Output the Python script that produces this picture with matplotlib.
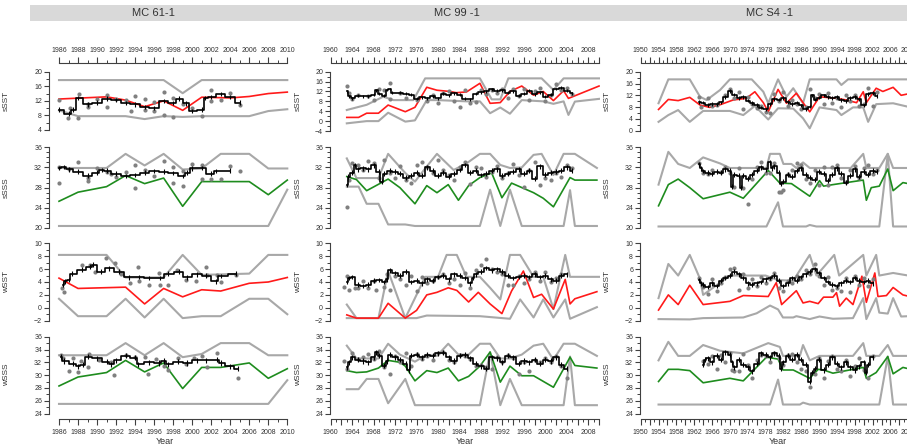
import matplotlib
matplotlib.use("Agg")
import matplotlib.pyplot as plt
from matplotlib.patches import Rectangle
from matplotlib.ticker import FixedLocator, FuncFormatter

plt.rcParams['font.family'] = ['Liberation Sans', 'DejaVu Sans']

# ---------------- data (year, value) ----------------
titles = ["MC 61-1", "MC 99 -1", "MC S4 -1"]
row_names = ["sSST", "sSSS", "wSST", "wSSS"]

# MC 61-1
c1_ssst_hi = [(1986, 17.7), (1997, 17.7), (1999, 14.1), (2001, 17.7), (2010, 17.7)]
c1_ssst_mean = [(1986, 12.5), (1991, 13.1), (1993, 12.2), (1995, 10.4), (1997, 12.0), (1999, 9.4), (2001, 13.0),
                (2004, 12.8), (2006, 13.2), (2008, 14.0), (2010, 14.4)]
c1_ssst_lo = [(1986, 9.4), (1988, 7.8), (1993, 7.8), (1995, 7.0), (1997, 7.8), (1999, 7.6), (2001, 7.8),
              (2006, 7.8), (2008, 9.2), (2010, 9.7)]
c1_ssst_run = [(1986, 9.6), (1987, 8.5), (1987.5, 9.6), (1988, 12.8), (1989, 11.0), (1990, 11.5), (1991, 12.6),
               (1992, 12.2), (1993, 11.4), (1994, 11.0), (1995, 10.3), (1996, 10.0), (1997, 12.0), (1998, 11.4),
               (1998.6, 12.6), (1999.4, 11.3), (2000, 9.2), (2001, 9.6), (2001.4, 12.8), (2002, 13.0),
               (2003, 13.8), (2004, 13.0), (2005, 11.5)]
c1_ssst_obs = [(1986, 12.3), (1986.9, 7.3), (1987.2, 10.0), (1988, 7.4), (1988.1, 13.9), (1989, 10.4), (1989, 11.2),
               (1990, 12.6), (1991, 10.2), (1991, 13.6), (1992, 12.6), (1993, 12.2), (1993.6, 9.2), (1994, 13.2),
               (1995, 12.5), (1995, 9.6), (1996, 9.1), (1996, 11.8), (1997, 14.5), (1997, 8.0), (1998, 12.8),
               (1998, 7.6), (1999, 11.0), (2000, 10.0), (2001, 7.9), (2002, 15.0), (2002, 12.0), (2003, 12.2),
               (2004, 14.2), (2005, 10.8)]

c1_ssss_hi = [(1986, 31.9), (1991, 31.9), (1993, 34.7), (1995, 32.4), (1997, 34.7), (1999, 31.6), (2001, 31.8),
              (2003, 34.7), (2006, 34.7), (2008, 31.8), (2010, 31.8)]
c1_ssss_mean = [(1986, 25.3), (1988, 27.1), (1991, 28.2), (1993, 30.4), (1995, 28.8), (1997, 29.9), (1999, 24.3),
                (2001, 29.2), (2006, 29.2), (2008, 26.6), (2010, 29.5)]
c1_ssss_lo = [(1986, 20.4), (2008, 20.4), (2010, 27.6)]
c1_ssss_run = [(1986, 31.9), (1986.5, 32.1), (1987, 31.6), (1988, 31.2), (1989, 30.4), (1990, 31.0), (1990.5, 31.5),
               (1991, 31.4), (1992, 30.8), (1993, 30.3), (1994, 30.5), (1995, 31.0), (1996, 31.3), (1997, 31.2),
               (1998, 30.9), (1999, 30.3), (1999.5, 31.0), (2000, 31.8), (2001, 31.9), (2002, 30.8),
               (2002.5, 31.3), (2004, 31.4)]
c1_ssss_obs = [(1986, 32.1), (1986, 29.0), (1987, 31.6), (1988, 33.0), (1989, 29.3), (1989, 30.0), (1990, 31.8),
               (1991, 31.2), (1991.5, 30.8), (1992, 30.1), (1993, 31.2), (1994, 28.0), (1994, 32.4), (1995, 31.5),
               (1996, 30.3), (1997, 33.2), (1998, 29.0), (1998, 32.0), (1999, 28.3), (1999, 31.3), (2000, 32.7),
               (2001, 32.4), (2001, 29.7), (2002, 29.7), (2003, 29.7), (2004, 32.3), (2005, 31.3)]

c1_wsst_hi = [(1986, 8.2), (1991, 8.2), (1993, 4.7), (1997, 4.7), (1999, 8.2), (2001, 5.1), (2006, 5.3),
              (2008, 8.2), (2010, 8.2)]
c1_wsst_mean = [(1986, 4.6), (1988, 3.0), (1993, 3.2), (1995, 0.6), (1997, 3.0), (1999, 1.7), (2001, 2.8),
                (2003, 2.6), (2006, 3.8), (2008, 4.0), (2010, 4.7)]
c1_wsst_lo = [(1986, 1.4), (1988, -1.3), (1991, -1.3), (1993, 1.4), (1995, -1.5), (1997, 1.4), (1999, -1.6),
              (2001, -1.3), (2003, -1.3), (2006, 1.4), (2008, 1.4), (2010, -1.0)]
c1_wsst_run = [(1986.4, 3.6), (1986.6, 4.1), (1987, 4.3), (1987.4, 5.3), (1988.4, 5.9), (1989.3, 6.4),
               (1989.6, 6.7), (1990.4, 5.6), (1991.3, 6.1), (1992.3, 5.6), (1993.4, 4.7), (1994.4, 4.8),
               (1995.5, 4.6), (1996.6, 4.6), (1997.5, 5.3), (1998.6, 5.6), (1999.5, 4.7), (2000.5, 5.2),
               (2001.5, 5.0), (2002.5, 4.1), (2003, 4.9), (2004.6, 5.3)]
c1_wsst_obs = [(1986.3, 3.1), (1986.5, 2.5), (1988.4, 6.7), (1989.3, 6.6), (1989.8, 5.5), (1990.9, 7.7),
               (1991.9, 6.9), (1992.5, 5.3), (1993.5, 3.8), (1994.3, 6.4), (1994.4, 4.1), (1995.5, 3.6),
               (1996.5, 5.4), (1996.6, 3.6), (1997.5, 3.6), (1998.4, 5.9), (1999.4, 4.3), (2000.4, 4.2),
               (2001.5, 6.4), (2001.6, 5.1), (2002.6, 5.1), (2003, 4.0), (2004.6, 5.1)]

c1_wsss_hi = [(1986, 33.1), (1991, 33.1), (1993, 35.0), (1995, 33.1), (1997, 35.0), (1999, 32.8), (2001, 33.3),
              (2003, 35.0), (2006, 35.0), (2008, 33.1), (2010, 33.1)]
c1_wsss_mean = [(1986, 28.3), (1988, 29.7), (1991, 30.4), (1993, 32.3), (1995, 30.5), (1997, 31.9), (1999, 27.9),
                (2001, 31.2), (2003, 31.2), (2006, 31.9), (2008, 29.5), (2010, 31.0)]
c1_wsss_lo = [(1986, 25.5), (2008, 25.5), (2010, 29.2)]
c1_wsss_run = [(1986.2, 32.9), (1986.5, 32.2), (1987.5, 31.8), (1988, 31.4), (1988.5, 31.6), (1989, 32.9),
               (1990, 32.6), (1991, 32.1), (1991.5, 31.7), (1992, 32.3), (1993, 33.0), (1994, 32.7),
               (1994.3, 31.7), (1995.5, 32.0), (1996.5, 31.9), (1997, 32.2), (1997.5, 31.7), (1998.5, 32.1),
               (1999.5, 31.9), (2000.5, 32.3), (2001.5, 32.3), (2002.6, 32.4), (2003, 31.9), (2004, 31.4),
               (2004.8, 31.0)]
c1_wsss_obs = [(1986.2, 33.2), (1986.4, 32.6), (1987, 30.6), (1987.5, 32.7), (1988, 30.5), (1988.3, 32.2),
               (1989.2, 33.3), (1989, 31.3), (1990.2, 32.3), (1991.5, 32.1), (1991.8, 30.0), (1993, 33.2),
               (1994, 32.9), (1995, 32.8), (1995.4, 30.2), (1996.2, 32.5), (1997, 31.5), (1997.5, 30.8),
               (1998.5, 32.6), (1999.3, 31.8), (2000.2, 32.7), (2001, 33.0), (2001.6, 31.2), (2002.6, 33.5),
               (2004.8, 29.6)]

# MC 99 -1
c2_ssst_hi = [(1963, 4.5), (1966.7, 6.6), (1969.8, 9.9), (1971.7, 8.5), (1975.4, 8.5), (1977.6, 17.3),
              (1987.8, 17.3), (1990, 8.8), (1991.6, 8.8), (1993.1, 17.3), (1999.3, 17.3), (2001.5, 12.6),
              (2003.4, 17.3), (2010, 17.3)]
c2_ssst_mean = [(1963, 1.5), (1965.2, 1.5), (1966.7, 3.2), (1968.9, 3.2), (1970.7, 6.5), (1973.9, 3.8),
                (1975.7, 5.6), (1977.9, 13.7), (1979.8, 12.5), (1982.2, 12.0), (1983.4, 11.5), (1985.3, 11.8),
                (1987.8, 15.3), (1989.7, 7.2), (1991.6, 7.5), (1993.4, 12.0), (1995.6, 14.2), (1997.8, 10.5),
                (1999.6, 12.0), (2001.5, 8.3), (2003.4, 12.3), (2004.3, 9.2), (2010, 14.2)]
c2_ssst_lo = [(1963, -0.9), (1966.7, 0.0), (1968.9, 0.0), (1970.7, 3.4), (1973.9, -0.2), (1975.7, 0.3),
              (1977.9, 8.5), (1980, 8.5), (1985.3, 8.0), (1987.8, 8.0), (1989.7, 3.2), (1991.6, 5.5),
              (1993.4, 3.0), (1995.6, 8.5), (1999.6, 8.0), (2001.5, 7.0), (2003.4, 8.0), (2004.3, 2.5),
              (2005.5, 7.9), (2010, 9.0)]
c2_ssst_run = [(1963, 12.0), (1963.5, 10.0), (1964, 9.3), (1965, 10.2), (1966, 10.0), (1967, 10.0), (1968, 10.6),
               (1968.5, 12.4), (1969, 11.0), (1970, 10.2), (1970.5, 12.6), (1971, 13.0), (1971.5, 11.5),
               (1973, 11.4), (1974, 11.0), (1975, 10.6), (1976, 9.0), (1977, 9.6), (1978, 9.3), (1979, 10.0),
               (1980, 9.2), (1981, 11.0), (1982, 10.4), (1983, 11.2), (1984, 10.6), (1985, 9.0), (1986, 8.8),
               (1987, 11.0), (1988, 11.6), (1989, 12.0), (1990, 12.8), (1991, 12.2), (1992, 12.4), (1993, 11.4),
               (1994, 12.0), (1995, 10.2), (1996, 11.0), (1997, 12.2), (1998, 10.8), (1999, 11.6), (2000, 9.8),
               (2001, 10.6), (2002, 13.0), (2003, 13.6), (2004, 12.2), (2005, 11.2)]
c2_ssst_obs = [(1963, 14.2), (1963.5, 11.5), (1964, 9.0), (1965, 10.5), (1967, 10.2), (1968, 8.5), (1969, 13.0),
               (1970, 12.5), (1971, 15.5), (1971, 9.0), (1973, 11.5), (1974, 9.5), (1976, 8.5), (1978, 8.0),
               (1979, 10.5), (1980, 7.5), (1981, 11.5), (1982, 12.2), (1983, 8.0), (1984, 5.8), (1985, 12.5),
               (1986, 7.5), (1987, 7.8), (1988, 12.7), (1989, 10.8), (1990, 12.5), (1991, 11.5), (1992, 13.0),
               (1993, 9.5), (1994, 13.2), (1995, 10.0), (1996, 12.8), (1997, 8.5), (1998, 12.0), (1999, 13.5),
               (2000, 8.0), (2001, 10.5), (2002, 15.0), (2003, 12.5), (2004, 13.5), (2005, 10.8)]

c2_ssss_hi = [(1963, 33.8), (1964.8, 29.9), (1968.9, 29.9), (1970.7, 34.7), (1973.9, 30.9), (1975.7, 29.2),
              (1977.9, 32.2), (1979.8, 34.7), (1982.9, 31.5), (1985.3, 32.8), (1987.8, 34.7), (1989.7, 34.7),
              (1991.6, 32.5), (1993.4, 31.9), (1995.6, 32.0), (1997.8, 34.5), (1999.3, 34.7), (2001.5, 30.5),
              (2003.4, 34.7), (2005.5, 34.7), (2009.6, 31.9)]
c2_ssss_mean = [(1963, 30.2), (1964.8, 29.6), (1966.7, 27.4), (1970.7, 29.7), (1972.9, 28.0), (1975.7, 24.8),
                (1977.9, 28.4), (1979.8, 27.0), (1981.9, 28.6), (1983.8, 25.5), (1985.7, 28.4), (1987.8, 30.0),
                (1990, 30.9), (1991.9, 26.0), (1993.7, 28.9), (1997.8, 27.0), (1999.6, 25.9), (2001.5, 24.2),
                (2004.6, 30.0), (2005.5, 29.5), (2009.6, 29.5)]
c2_ssss_lo = [(1963, 28.2), (1965.2, 28.2), (1966.7, 24.8), (1968.9, 24.8), (1970.7, 20.7), (1973.9, 20.7),
              (1975.7, 20.4), (1987.8, 20.4), (1989.7, 27.6), (1991.6, 20.4), (1993.4, 27.6), (1995.6, 20.4),
              (2003.4, 20.4), (2004.6, 27.5), (2005.5, 20.4), (2009.6, 20.4)]
c2_ssss_run = [(1963, 28.5), (1963.3, 30.2), (1964, 31.0), (1964.5, 32.5), (1965, 31.6), (1966, 31.8),
               (1967, 31.6), (1968, 32.4), (1969, 31.2), (1969.5, 29.2), (1970, 30.8), (1971, 31.4), (1972, 31.2),
               (1973, 30.8), (1974, 30.0), (1975, 30.4), (1976, 31.0), (1977, 30.4), (1978, 32.0), (1979, 31.4),
               (1980, 30.4), (1981, 31.0), (1982, 30.2), (1983, 30.8), (1984, 31.5), (1985, 32.5), (1986, 31.0),
               (1987, 31.4), (1988, 30.5), (1989, 30.8), (1990, 31.4), (1991, 31.6), (1992, 30.4), (1993, 30.8),
               (1994, 31.2), (1995, 31.6), (1996, 30.8), (1997, 31.4), (1998, 29.8), (1999, 32.2), (2000, 30.6),
               (2001, 31.0), (2002, 31.2), (2003, 31.4), (2004, 32.0), (2005, 31.4)]
c2_ssss_obs = [(1963, 24.1), (1963.5, 29.5), (1964, 32.8), (1965, 32.5), (1966, 31.5), (1967, 33.3), (1968, 32.8),
               (1969, 30.0), (1970, 33.5), (1971, 31.0), (1972, 30.0), (1973, 32.2), (1974, 29.5), (1975, 29.0),
               (1976, 32.5), (1977, 33.0), (1978, 32.0), (1979, 31.0), (1980, 33.4), (1981, 31.5), (1982, 30.5),
               (1983, 29.5), (1984, 32.0), (1985, 33.0), (1986, 28.8), (1987, 32.0), (1988, 31.8), (1989, 30.2),
               (1990, 31.2), (1991, 32.2), (1992, 30.0), (1993, 31.0), (1994, 32.6), (1995, 30.5), (1996, 28.2),
               (1997, 31.5), (1998, 33.0), (1999, 28.5), (2000, 30.0), (2001, 29.5), (2002, 31.0), (2003, 30.2),
               (2004, 32.5), (2005, 31.8)]

c2_wsst_hi = [(1963, 0.5), (1964.8, -1.6), (1968.9, -1.6), (1970.7, 5.7), (1973.9, -1.6), (1975.7, 1.5),
              (1977.6, 4.8), (1980, 4.8), (1981.6, 8.2), (1983.5, 8.2), (1985.3, 4.8), (1987.8, 4.8),
              (1989.7, 3.1), (1991.6, 1.3), (1993.4, 8.2), (1995.3, 8.2), (1997.8, 4.8), (1999.6, 4.8),
              (2001.5, -0.2), (2003.7, 8.2), (2004.6, 4.8), (2010, 4.8)]
c2_wsst_mean = [(1963, -1.1), (1964.8, -1.6), (1968.9, -1.6), (1970.7, 0.7), (1973.9, -1.6), (1976, -0.4),
                (1977.9, 2.0), (1979.8, 2.4), (1981.9, 3.1), (1983.5, 2.7), (1985.7, 0.9), (1987.5, 2.4),
                (1989.7, 0.6), (1991.9, -0.9), (1993.7, 2.6), (1995.9, 5.7), (1997.8, 1.6), (1999.3, 2.1),
                (2001.5, -0.2), (2003.7, 4.4), (2004.6, 0.6), (2005.5, 1.4), (2009.6, 2.5)]
c2_wsst_lo = [(1963, -1.6), (1976, -1.6), (1977.9, -1.2), (1987.8, -1.3), (1993.4, -1.7), (1995.3, 1.3),
              (1997.8, -1.5), (1999.6, 1.3), (2001.5, -1.5), (2003.7, 1.3), (2004.6, -1.7), (2009.6, 0.1)]
c2_wsst_run = [(1963, 4.0), (1963.5, 4.6), (1964, 4.8), (1965, 3.6), (1966, 3.4), (1967, 3.6), (1968, 4.2),
               (1969, 4.3), (1970, 4.0), (1970.5, 4.4), (1971, 5.8), (1972, 5.4), (1973, 5.0), (1974, 5.6),
               (1975, 4.0), (1976, 4.2), (1977, 3.8), (1978, 4.4), (1979, 4.2), (1980, 4.8), (1981, 5.0),
               (1982, 4.4), (1983, 5.2), (1984, 5.0), (1985, 4.6), (1986, 3.8), (1986.5, 4.6), (1987, 5.2),
               (1988, 5.6), (1989, 6.2), (1990, 5.8), (1991, 6.0), (1992, 5.6), (1993, 5.0), (1994, 4.6),
               (1995, 4.8), (1996, 5.0), (1997, 4.8), (1998, 5.2), (1999, 4.8), (2000, 5.0), (2001, 4.4),
               (2002, 4.2), (2003, 5.0), (2004, 5.2)]
c2_wsst_obs = [(1962.5, 3.3), (1963, 4.9), (1963.5, 2.8), (1964.5, 3.0), (1965, 3.0), (1966, 4.2), (1967, 3.0),
               (1968, 4.2), (1968.5, 2.8), (1970, 3.2), (1970.5, 5.2), (1971, 2.8), (1972, 5.0), (1973, 4.5),
               (1974, 3.5), (1975, 5.0), (1976, 2.6), (1977, 4.8), (1978, 3.8), (1979, 4.2), (1980, 4.8),
               (1981, 5.2), (1982, 3.8), (1983, 4.5), (1984, 3.5), (1985, 5.4), (1986, 3.0), (1987, 5.8),
               (1988, 6.6), (1989, 7.6), (1990, 6.0), (1991, 5.5), (1992, 5.2), (1993, 3.5), (1994, 3.5),
               (1995, 5.0), (1996, 3.8), (1997, 4.4), (1998, 5.6), (1999, 4.2), (2000, 5.5), (2001, 4.0),
               (2002, 4.6), (2003, 5.2)]

c2_wsss_hi = [(1963, 34.6), (1964.8, 32.6), (1968.9, 32.6), (1970.7, 34.9), (1972.9, 33.2), (1975.7, 32.1),
              (1977.9, 33.2), (1979.8, 33.0), (1981.9, 34.9), (1983.8, 33.2), (1985.7, 33.2), (1987.8, 34.9),
              (1989.7, 34.9), (1991.6, 32.6), (1993.4, 32.6), (1995.6, 33.2), (1997.8, 34.6), (1999.6, 34.9),
              (2001.5, 32.4), (2003.4, 34.9), (2005.5, 34.9), (2009.6, 33.0)]
c2_wsss_mean = [(1963, 30.7), (1964.8, 30.4), (1966.7, 30.5), (1968.9, 31.1), (1970.7, 32.3), (1972.9, 32.0),
                (1973.9, 31.4), (1975.7, 29.1), (1977.9, 30.7), (1979.8, 30.4), (1981.9, 31.1), (1983.8, 29.1),
                (1985.7, 29.8), (1987.8, 31.4), (1989.7, 33.6), (1991.6, 28.9), (1993.4, 31.4), (1995.6, 29.9),
                (1997.8, 29.9), (2001.5, 28.1), (2004.6, 32.8), (2005.5, 31.5), (2009.6, 31.1)]
c2_wsss_lo = [(1963, 27.8), (1965.2, 27.8), (1966.7, 29.4), (1968.9, 29.4), (1970.7, 25.6), (1973.9, 29.4),
              (1975.7, 25.3), (1987.8, 25.3), (1989.7, 33.6), (1991.6, 25.3), (1993.4, 29.4), (1995.6, 25.3),
              (2003.4, 25.3), (2004.6, 32.9), (2005.5, 25.3), (2009.6, 25.3)]
c2_wsss_run = [(1963, 31.2), (1963.5, 32.0), (1964, 32.8), (1965, 32.4), (1966, 32.2), (1967, 32.0), (1968, 32.8),
               (1968.5, 33.6), (1969, 33.0), (1970, 31.5), (1970.5, 32.2), (1971, 33.2), (1972, 32.8),
               (1973, 32.4), (1974, 31.8), (1974.5, 30.8), (1975, 33.0), (1976, 33.2), (1977, 32.8), (1978, 33.2),
               (1979, 33.0), (1980, 33.4), (1981, 33.5), (1982, 32.8), (1983, 32.2), (1984, 33.0), (1985, 33.2),
               (1986, 32.6), (1987, 31.8), (1988, 31.4), (1989, 31.0), (1990, 32.8), (1991, 32.6), (1992, 32.0),
               (1993, 33.0), (1994, 32.8), (1995, 31.8), (1996, 32.2), (1997, 32.0), (1998, 32.4), (1999, 31.8),
               (2000, 32.4), (2001, 32.2), (2002, 32.8), (2003, 31.6), (2004, 31.0)]
c2_wsss_obs = [(1962.5, 32.2), (1963, 31.0), (1964, 33.5), (1965, 32.5), (1966, 32.8), (1967, 33.3), (1968, 32.5),
               (1969, 33.8), (1970, 31.2), (1971, 30.2), (1972, 33.0), (1973, 32.0), (1974, 33.4), (1975, 31.5),
               (1976, 33.3), (1977, 32.5), (1978, 33.0), (1979, 32.4), (1980, 33.5), (1981, 33.6), (1982, 32.4),
               (1983, 32.0), (1984, 33.2), (1985, 33.0), (1986, 32.5), (1987, 31.5), (1988, 31.6), (1989, 31.2),
               (1990, 31.0), (1991, 32.8), (1992, 32.0), (1993, 33.2), (1994, 32.6), (1995, 30.2), (1996, 32.0),
               (1997, 30.6), (1998, 32.4), (1999, 32.0), (2000, 32.6), (2001, 32.0), (2002, 33.0), (2003, 31.5),
               (2004, 29.6)]

# MC S4 -1
c3_ssst_hi = [(1954, 9.3), (1956.2, 17.4), (1961, 17.4), (1963.3, 11.5), (1964.8, 10.4), (1967.8, 13.8),
              (1970, 17.4), (1974.9, 17.4), (1977.5, 13.2), (1978.6, 9.3), (1980.8, 17.4), (1982.7, 11.5),
              (1984.2, 14.4), (1986.4, 9.3), (1987.9, 17.4), (1993.9, 17.4), (1995, 15.5), (1996.5, 17.4),
              (2010, 17.4)]
c3_ssst_mean = [(1954, 7.2), (1956.2, 10.6), (1958.4, 10.2), (1961, 11.3), (1963.3, 8.7), (1965.5, 7.9),
                (1967.8, 8.8), (1970.7, 10.4), (1973.7, 11.0), (1975.6, 13.2), (1977.5, 9.5), (1978.6, 6.4),
                (1980.8, 14.0), (1982.7, 9.3), (1984.9, 12.7), (1986.4, 9.5), (1987.9, 6.4), (1990.1, 11.5),
                (1993.9, 11.0), (1996.1, 10.4), (1998.4, 9.5), (1999.9, 13.2), (2000.6, 9.5), (2002.8, 14.4),
                (2004.3, 13.3), (2006.6, 14.7), (2008.4, 12.0), (2010, 12.5)]
c3_ssst_lo = [(1954, 3.0), (1956.2, 5.3), (1958.4, 7.0), (1961, 3.0), (1964, 6.7), (1970, 6.7), (1973, 5.3),
              (1975.6, 8.4), (1978.6, 3.8), (1980.8, 7.6), (1984.2, 7.5), (1986.4, 4.2), (1987.9, 0.8),
              (1990.1, 7.9), (1993.9, 7.0), (1995, 5.3), (1997.6, 7.9), (1999.9, 7.9), (2001, 3.0), (2002.8, 9.0),
              (2006.6, 9.3), (2010, 8.1)]
c3_ssst_run = [(1963, 9.8), (1964, 9.5), (1965, 8.8), (1966, 9.0), (1967, 9.0), (1968, 9.6), (1969, 11.5),
               (1970, 13.5), (1971, 12.2), (1972, 11.0), (1973, 11.5), (1974, 10.2), (1975, 9.4), (1976, 8.8),
               (1977, 7.8), (1978, 7.2), (1979, 9.0), (1980, 10.8), (1981, 10.5), (1982, 11.0), (1983, 9.8),
               (1984, 9.0), (1985, 9.5), (1986, 8.6), (1987, 7.4), (1988, 8.2), (1988.5, 12.0), (1989, 10.5),
               (1990, 11.2), (1991, 12.0), (1992, 11.5), (1993, 11.0), (1994, 11.4), (1995, 10.4), (1996, 10.0),
               (1997, 11.0), (1998, 11.5), (1999, 10.6), (2000, 8.6), (2001, 12.4), (2002, 12.8), (2003, 11.8)]
c3_ssst_obs = [(1963, 11.5), (1963.5, 8.0), (1965, 11.2), (1966, 8.5), (1967, 8.8), (1969, 12.0), (1970, 14.2),
               (1971, 11.0), (1972, 13.2), (1973, 7.5), (1974, 11.5), (1975, 9.0), (1976, 7.8), (1977, 8.5),
               (1978, 6.5), (1979, 6.0), (1980, 12.5), (1981, 10.0), (1982, 13.0), (1983, 8.5), (1984, 10.5),
               (1985, 9.0), (1986, 7.5), (1987, 8.0), (1988, 14.0), (1989, 11.0), (1990, 12.5), (1991, 9.0),
               (1992, 12.8), (1993, 9.5), (1994, 11.0), (1995, 8.0), (1996, 12.2), (1997, 10.0), (1998, 12.0),
               (1999, 8.5), (2000, 9.0), (2001, 14.5), (2002, 8.5), (2003, 13.0)]

c3_ssss_hi = [(1954, 28.6), (1956.2, 35.1), (1958.4, 32.7), (1961, 31.9), (1964, 34.0), (1967.8, 32.8),
              (1970, 31.9), (1978.2, 31.9), (1979, 34.7), (1981.2, 34.7), (1982, 32.7), (1983.8, 32.7),
              (1984.9, 31.9), (1986.4, 33.0), (1987.9, 31.9), (1997.1, 31.9), (1999.9, 34.7), (2000.6, 31.9),
              (2003.5, 31.9), (2005.4, 34.7), (2006.6, 31.9), (2010, 31.9)]
c3_ssss_mean = [(1954, 24.4), (1956.2, 28.6), (1958.4, 29.7), (1961, 28.0), (1964, 25.8), (1970, 27.1),
                (1973, 25.9), (1978.6, 31.4), (1981.2, 28.9), (1983.8, 28.8), (1987.9, 26.3), (1990.1, 29.4),
                (1991, 28.3), (1993.1, 28.6), (1999.9, 29.5), (2000.6, 25.5), (2001.7, 28.0), (2003.5, 28.3),
                (2005.4, 31.7), (2006.6, 27.4), (2008.8, 29.0), (2010, 28.8)]
c3_ssss_lo = [(1954, 20.3), (1978.2, 20.3), (1980.8, 25.1), (1981.9, 20.3), (1987.1, 20.3), (1987.9, 20.6),
              (1989.4, 20.3), (2003.5, 20.3), (2005.4, 34.7), (2006.6, 20.3), (2010, 20.3)]
c3_ssss_run = [(1963, 32.6), (1963.5, 31.8), (1964, 31.3), (1965, 31.0), (1966, 30.8), (1967, 31.2), (1968, 31.0),
               (1969, 31.6), (1970, 31.4), (1970.5, 28.2), (1971, 30.6), (1972, 30.4), (1972.5, 28.0),
               (1973, 30.4), (1974, 29.8), (1975, 30.6), (1976, 31.4), (1977, 32.0), (1978, 31.6), (1979, 33.0),
               (1979.5, 31.8), (1980, 32.2), (1981, 31.0), (1981.5, 28.8), (1982, 29.2), (1983, 30.6),
               (1984, 30.2), (1985, 31.4), (1986, 31.8), (1987, 30.6), (1988, 30.0), (1989, 29.6), (1990, 31.2),
               (1991, 30.8), (1992, 29.4), (1993, 30.6), (1994, 31.8), (1995, 30.8), (1996, 29.0), (1997, 30.4),
               (1998, 31.6), (1999, 30.2), (2000, 31.2), (2001, 30.6), (2002, 31.4), (2003, 31.2)]
c3_ssss_obs = [(1963, 32.8), (1964, 31.0), (1965, 30.8), (1966, 31.5), (1968, 31.2), (1969, 32.0), (1970, 31.0),
               (1971, 28.2), (1972, 31.8), (1973, 28.0), (1974, 24.8), (1975, 29.8), (1976, 32.0), (1977, 33.0),
               (1978, 31.0), (1979, 31.0), (1980, 32.8), (1981, 27.2), (1981.5, 27.2), (1982, 27.6), (1983, 30.8),
               (1984, 31.5), (1985, 32.8), (1986, 32.4), (1987, 29.8), (1988, 29.0), (1989, 31.5), (1990, 28.5),
               (1991, 32.0), (1992, 28.5), (1993, 32.0), (1994, 32.5), (1995, 30.0), (1996, 29.2), (1997, 31.5),
               (1998, 32.2), (1999, 30.0), (2000, 31.8), (2001, 32.5), (2002, 30.8), (2003, 31.5)]

c3_wsst_hi = [(1954, 1.5), (1956.2, 6.8), (1958.4, 5.0), (1961, 8.2), (1963.3, 4.5), (1964, 2.0), (1966, 3.0),
              (1970, 5.0), (1978, 5.0), (1980.8, 4.3), (1984.2, 4.2), (1987.9, 8.2), (1989.4, 5.0),
              (1993.4, 8.2), (1994.5, 5.0), (1999.9, 8.2), (2000.6, 5.0), (2002.8, 8.2), (2003.5, 5.0),
              (2006.6, 5.4), (2010, 5.0)]
c3_wsst_mean = [(1954, -0.35), (1956.2, 2.0), (1958.4, 0.5), (1961, 3.5), (1964, 0.5), (1970, 1.0), (1973, 1.9),
                (1978.6, 1.75), (1980.4, 3.9), (1981.6, 0.5), (1984.9, 2.65), (1986.4, 0.75), (1987.9, 1.0),
                (1989.8, 0.65), (1991, 1.65), (1993.1, 1.65), (1993.9, 2.35), (1994.6, 0.25), (1996.1, 1.5),
                (1997.6, 0.5), (1999.6, 4.9), (2000.6, 0.85), (2002.5, 5.4), (2003.2, 1.75), (2005.1, 1.9),
                (2006.6, 3.15), (2008.8, 2.0), (2010, 1.8)]
c3_wsst_lo = [(1954, -1.75), (1961, -1.8), (1964, -1.6), (1973, -1.5), (1976, -0.85), (1979, 0.35),
              (1980.8, -0.25), (1981.9, -1.5), (1984.2, -1.5), (1984.9, -1.3), (1987.9, -1.75), (1990.1, -1.35),
              (1993.1, -1.7), (1997.6, -1.6), (1999.9, 1.5), (2000.6, -1.75), (2002.8, 1.5), (2003.5, -0.75),
              (2005.4, -0.9), (2006.6, 1.5), (2008.4, -1.35), (2010, -1.3)]
c3_wsst_run = [(1963, 4.3), (1963.5, 3.8), (1964, 3.6), (1965, 3.2), (1966, 3.8), (1967, 3.4), (1968, 4.2),
               (1969, 4.6), (1970, 5.0), (1971, 5.6), (1972, 5.2), (1973, 4.6), (1974, 3.8), (1975, 3.6),
               (1976, 3.8), (1977, 4.0), (1978, 4.4), (1979, 4.6), (1980, 5.0), (1981, 4.2), (1982, 3.4),
               (1983, 3.8), (1984, 4.6), (1985, 4.2), (1986, 4.8), (1987, 5.2), (1988, 5.6), (1989, 6.0),
               (1990, 5.4), (1991, 4.6), (1992, 4.0), (1993, 3.6), (1994, 3.4), (1995, 3.8), (1996, 4.2),
               (1997, 4.0), (1998, 4.6), (1999, 4.2), (2000, 4.0), (2001, 4.2), (2002, 3.8)]
c3_wsst_obs = [(1963, 4.6), (1964, 3.2), (1965, 2.2), (1966, 4.4), (1967, 2.6), (1968, 3.8), (1969, 4.8),
               (1970, 6.0), (1971, 6.2), (1972, 2.8), (1973, 5.2), (1974, 3.0), (1975, 4.5), (1976, 3.4),
               (1977, 4.8), (1978, 3.8), (1979, 4.4), (1980, 5.4), (1981, 3.0), (1982, 2.6), (1983, 4.2),
               (1984, 3.8), (1985, 5.0), (1986, 4.5), (1987, 5.8), (1988, 5.2), (1989, 6.8), (1990, 5.0),
               (1991, 3.6), (1992, 4.8), (1993, 2.8), (1994, 3.0), (1995, 2.6), (1996, 4.6), (1997, 2.4),
               (1998, 5.0), (1999, 3.6), (2000, 4.6), (2001, 3.4), (2002, 4.4)]

c3_wsss_hi = [(1954, 32.3), (1956.2, 35.2), (1958.4, 33.0), (1961, 33.0), (1964, 34.7), (1967.8, 33.8),
              (1973, 33.4), (1978.6, 35.0), (1981.2, 34.4), (1981.9, 33.0), (1985.7, 33.0), (1986.4, 34.7),
              (1987.9, 32.3), (1990.1, 33.0), (1997.6, 33.0), (1999.9, 35.0), (2000.6, 33.0), (2003.5, 33.0),
              (2005.4, 34.7), (2006.6, 33.0), (2010, 33.0)]
c3_wsss_mean = [(1954, 29.0), (1956.2, 30.9), (1958.4, 30.9), (1961, 30.7), (1964, 28.8), (1970, 29.5),
                (1973, 29.1), (1978.2, 32.8), (1980.8, 32.5), (1981.9, 30.8), (1984.2, 30.8), (1987.9, 29.5),
                (1989.8, 30.9), (1991, 30.8), (1993.1, 30.3), (1997.6, 30.9), (1999.9, 31.2), (2000.6, 29.5),
                (2002.8, 30.4), (2005.4, 32.9), (2006.6, 30.2), (2008.8, 31.2), (2010, 31.0)]
c3_wsss_lo = [(1954, 25.4), (1979, 25.4), (1980.8, 29.3), (1981.9, 25.4), (1985.7, 25.4), (1986.4, 25.7),
              (1987.9, 25.4), (2003.5, 25.4), (2005.4, 32.9), (2006.6, 25.4), (2010, 25.4)]
c3_wsss_run = [(1964, 31.6), (1964.5, 32.4), (1965, 32.6), (1966, 32.0), (1967, 33.0), (1968, 32.4), (1969, 33.6),
               (1970, 33.2), (1970.5, 32.0), (1971, 31.2), (1972, 32.4), (1973, 31.6), (1974, 31.2), (1975, 30.6),
               (1976, 31.8), (1977, 33.4), (1978, 33.2), (1979, 32.8), (1980, 33.4), (1981, 33.0), (1981.5, 31.0),
               (1982, 32.0), (1983, 33.0), (1984, 32.4), (1985, 33.2), (1986, 32.4), (1987, 31.6), (1988, 29.0),
               (1988.5, 30.4), (1989, 31.0), (1990, 32.4), (1991, 30.8), (1992, 31.6), (1993, 32.8), (1994, 31.8),
               (1995, 31.2), (1996, 32.0), (1997, 31.2), (1998, 30.8), (1999, 31.4), (2000, 32.0), (2000.5, 30.4),
               (2001, 31.6), (2002, 32.8)]
c3_wsss_obs = [(1964, 32.2), (1965, 31.8), (1966, 33.0), (1967, 31.0), (1968, 33.2), (1969, 32.0), (1970, 33.4),
               (1970.5, 30.8), (1971, 30.6), (1972, 30.6), (1973, 33.3), (1974, 31.6), (1975, 29.5), (1976, 32.4),
               (1977, 33.2), (1978, 33.0), (1979, 32.0), (1980, 33.4), (1981, 32.6), (1982, 31.6), (1983, 33.2),
               (1984, 33.3), (1985, 32.0), (1986, 31.0), (1987, 30.6), (1988, 28.2), (1989, 30.2), (1990, 32.6),
               (1991, 29.5), (1992, 32.2), (1993, 33.0), (1994, 31.0), (1995, 30.6), (1996, 32.4), (1997, 29.8),
               (1998, 31.4), (1999, 32.6), (2000, 30.8), (2001, 29.5), (2002, 33.0)]

panels = {
    (0, 0): (c1_ssst_hi, c1_ssst_mean, c1_ssst_lo, c1_ssst_run, c1_ssst_obs),
    (1, 0): (c1_ssss_hi, c1_ssss_mean, c1_ssss_lo, c1_ssss_run, c1_ssss_obs),
    (2, 0): (c1_wsst_hi, c1_wsst_mean, c1_wsst_lo, c1_wsst_run, c1_wsst_obs),
    (3, 0): (c1_wsss_hi, c1_wsss_mean, c1_wsss_lo, c1_wsss_run, c1_wsss_obs),
    (0, 1): (c2_ssst_hi, c2_ssst_mean, c2_ssst_lo, c2_ssst_run, c2_ssst_obs),
    (1, 1): (c2_ssss_hi, c2_ssss_mean, c2_ssss_lo, c2_ssss_run, c2_ssss_obs),
    (2, 1): (c2_wsst_hi, c2_wsst_mean, c2_wsst_lo, c2_wsst_run, c2_wsst_obs),
    (3, 1): (c2_wsss_hi, c2_wsss_mean, c2_wsss_lo, c2_wsss_run, c2_wsss_obs),
    (0, 2): (c3_ssst_hi, c3_ssst_mean, c3_ssst_lo, c3_ssst_run, c3_ssst_obs),
    (1, 2): (c3_ssss_hi, c3_ssss_mean, c3_ssss_lo, c3_ssss_run, c3_ssss_obs),
    (2, 2): (c3_wsst_hi, c3_wsst_mean, c3_wsst_lo, c3_wsst_run, c3_wsst_obs),
    (3, 2): (c3_wsss_hi, c3_wsss_mean, c3_wsss_lo, c3_wsss_run, c3_wsss_obs),
}

# ---------------- layout (pixels) ----------------
W, H = 907, 447
fig = plt.figure(figsize=(W / 100, H / 100), dpi=100)

AX_COL = '#404040'
TXT_COL = '#333333'
GREY = '#a8a8a8'
OBS_COL = '#808080'

# column: (year_a, px_a, year_b, px_b, axes x0, axes x1, first tick, last tick, label step, ylabel x, Year x)
cols = [
    (1986, 59.0, 2010, 287.3, 48.5, 296, 1986, 2010, 2, 10, 165),
    (1960, 330.7, 2008, 588.3, 329.5, 600, 1960, 2010, 4, 302, 465),
    (1950, 640.7, 2002, 872.6, 639.5, 915, 1950, 2010, 4, 611, 778),
]
row_box = [(63.3, 138), (140, 234), (236, 328), (330, 419.3)]
# value/pixel mapping per panel: (v_hi, px_hi, v_lo, px_lo)
ymaps = {
    0: [(20, 71.7, 4, 130.0), (20, 71.7, -4, 131.0), (20, 71.7, 0, 130.7)],
    1: [(36, 147.3, 20, 228.0)] * 3,
    2: [(10, 243.3, -2, 320.7)] * 3,
    3: [(36, 336.7, 24, 413.5)] * 3,
}
ytick_steps = {0: (4, 2), 1: (4, 1), 2: (2, 1), 3: (2, 1)}
mean_colors = ['#ff1a1a', '#1e8c1e', '#ff1a1a', '#1e8c1e']
run_err = [0.6, 0.45, 0.35, 0.4]

# header band
fig.patches.append(Rectangle((30 / W, 1 - 21 / H), (W - 30) / W, 16 / H, transform=fig.transFigure,
                             facecolor='#d9d9d9', edgecolor='none'))
title_x = [153, 457, 769]
for t, tx in zip(titles, title_x):
    fig.text(tx / W, 1 - 13 / H, t, ha='center', va='center', fontsize=8, color=TXT_COL)


def xy(pts):
    return [p[0] for p in pts], [p[1] for p in pts]


for c, (ya, pa, yb, pb, x0, x1, first, last, step, ylab_x, year_x) in enumerate(cols):
    ppy = (pb - pa) / (yb - ya)
    xlim = (ya + (x0 - pa) / ppy, ya + (x1 - pa) / ppy)
    for r in range(4):
        top, bot = row_box[r]
        vh, ph, vl, pl = ymaps[r][c]
        ppu = (pl - ph) / (vh - vl)
        ylim = (vh - (bot - ph) / ppu, vh - (top - ph) / ppu)
        ax = fig.add_axes([x0 / W, 1 - bot / H, (x1 - x0) / W, (bot - top) / H])
        ax.set_xlim(*xlim)
        ax.set_ylim(*ylim)
        ax.patch.set_alpha(0)

        hi, mean, lo, run, obs = panels[(r, c)]
        ax.plot(*xy(hi), color=GREY, lw=1.5, zorder=1)
        ax.plot(*xy(lo), color=GREY, lw=1.5, zorder=1)
        ax.plot(*xy(mean), color=mean_colors[r], lw=1.2, zorder=2)
        ox, oy = xy(obs)
        ax.scatter(ox, oy, s=9, color=OBS_COL, linewidths=0, zorder=3)
        rx, ry = xy(run)
        ax.plot(rx, ry, color='black', lw=1.2, drawstyle='steps-mid', zorder=4)
        ax.errorbar(rx, ry, yerr=run_err[r], fmt='none', ecolor='black', elinewidth=0.8, capsize=0, zorder=4)

        # y axis, R style
        for s in ['right', 'top', 'bottom']:
            ax.spines[s].set_visible(False)
        ax.spines['left'].set_bounds(vl, vh)
        ax.spines['left'].set_color(AX_COL)
        ax.spines['left'].set_linewidth(0.8)
        maj, mnr = ytick_steps[r]
        ax.yaxis.set_major_locator(FixedLocator(list(range(vl, vh + 1, maj))))
        ax.yaxis.set_minor_locator(FixedLocator(list(range(vl, vh + 1, mnr))))
        ax.tick_params(axis='y', which='major', length=3.8, width=0.8, color=AX_COL, labelsize=5.0,
                       labelcolor=TXT_COL, pad=0.8)
        ax.tick_params(axis='y', which='minor', length=2.0, width=0.7, color=AX_COL)
        ax.set_ylabel(row_names[r], fontsize=6.0, color=TXT_COL)
        ax.yaxis.set_label_coords(ylab_x / W, 1 - (ph + pl) / 2 / H, transform=fig.transFigure)

        # x axis
        years_major = list(range(first, last + 1, 2))
        years_minor = list(range(first, last + 1, 1))
        if r in (0, 3):
            side = 'top' if r == 0 else 'bottom'
            ax.spines[side].set_visible(True)
            ax.spines[side].set_bounds(first, last)
            ax.spines[side].set_color(AX_COL)
            ax.spines[side].set_linewidth(0.8)
            ax.xaxis.set_ticks_position(side)
            ax.xaxis.set_major_locator(FixedLocator(years_major))
            ax.xaxis.set_minor_locator(FixedLocator(years_minor))
            ax.xaxis.set_major_formatter(
                FuncFormatter(lambda v, p, f=first, s=step: str(int(round(v))) if (int(round(v)) - f) % s == 0 else ''))
            ax.tick_params(axis='x', which='major', length=4.0, width=0.8, color=AX_COL, labelsize=5.0,
                           labelcolor=TXT_COL, pad=3.0)
            ax.tick_params(axis='x', which='minor', length=2.0, width=0.7, color=AX_COL)
        else:
            ax.set_xticks([])

    fig.text(year_x / W, 1 - 442 / H, 'Year', ha='center', va='center', fontsize=6.5, color=TXT_COL)

fig.savefig('out.png', dpi=100)
